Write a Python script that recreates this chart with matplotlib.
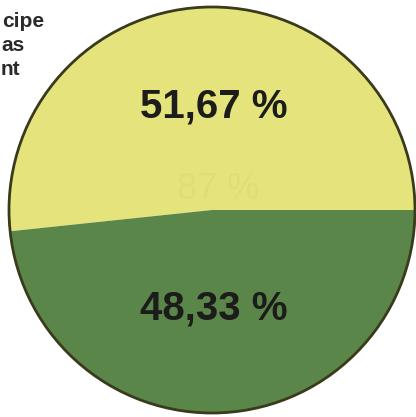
import matplotlib
matplotlib.use("Agg")
import matplotlib.pyplot as plt
from matplotlib.patches import Circle

# Data
labels = ["51,67 %", "48,33 %"]
values = [51.67, 48.33]
colors = ["#e5e47c", "#5a8749"]
side_text = ["cipe", "as", "nt"]
ghost_text = "87 %"

W, H = 416, 417
fig = plt.figure(figsize=(W / 100, H / 100), dpi=100)
ax = fig.add_axes([0, 0, 1, 1])

cx, cy, r = 212, 207, 203
ax.pie(values, colors=colors, startangle=0, counterclock=True,
       center=(cx, cy), radius=r,
       wedgeprops=dict(linewidth=0, edgecolor="none"))
ax.add_patch(Circle((cx, cy), r, fill=False, edgecolor="#3a3a1c", linewidth=2.0, zorder=5))

ax.set_xlim(0, W)
ax.set_ylim(0, H)
ax.set_aspect("equal")
ax.axis("off")

font = "Liberation Sans"
ax.text(214, 300, labels[0], ha="center", va="baseline", fontsize=29,
        fontweight="bold", color="#1c1c1a", family=font, zorder=6)
ax.text(214, 97, labels[1], ha="center", va="baseline", fontsize=29,
        fontweight="bold", color="#1c1c1a", family=font, zorder=6)
ax.text(218, 218, ghost_text, ha="center", va="baseline", fontsize=26,
        color="#d4d276", alpha=0.35, family=font, zorder=4)

starts = [2, 1, 1]
baselines = [390, 366, 342]
for t, xs, yb in zip(side_text, starts, baselines):
    ax.text(xs, yb, t, ha="left", va="baseline", fontsize=15,
            fontweight="bold", color="#2a2a2a", family=font, zorder=6)

fig.savefig("out.png", dpi=100)
